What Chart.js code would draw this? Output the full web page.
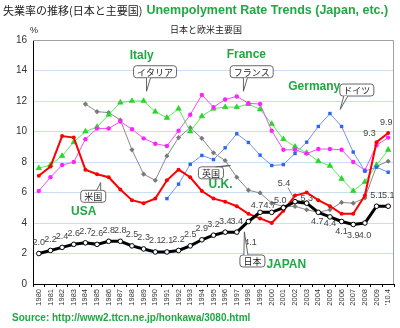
<!DOCTYPE html>
<html><head><meta charset="utf-8">
<script src="https://cdn.jsdelivr.net/npm/chart.js@4/dist/chart.umd.min.js"></script>
<style>html,body{margin:0;padding:0;background:#fff}canvas{display:block}</style>
</head><body>
<canvas id="c" width="400" height="328"></canvas>
<script>
const years = ['1980','1981','1982','1983','1984','1985','1986','1987','1988','1989','1990','1991','1992','1993','1994','1995','1996','1997','1998','1999','2000','2001','2002','2003','2004','2005','2006','2007','2008','2009',"'10.4"];
const japan = [2.0,2.2,2.4,2.6,2.7,2.6,2.8,2.8,2.5,2.3,2.1,2.1,2.2,2.5,2.9,3.2,3.4,3.4,4.1,4.7,4.7,5.0,5.4,5.3,4.7,4.4,4.1,3.9,4.0,5.1,5.1];
const usa = [7.1,7.7,9.7,9.6,7.5,7.2,7.0,6.2,5.5,5.3,5.6,6.8,7.5,7.0,6.1,5.6,5.4,5.1,4.6,4.3,4.0,4.8,5.8,6.0,5.5,5.1,4.6,4.6,5.8,9.3,9.9];
const italy = [7.6,7.8,8.4,9.3,10.0,10.3,11.1,11.9,12.0,12.0,11.3,10.9,11.5,10.0,11.0,11.5,11.6,11.6,11.8,11.45,10.5,9.5,9.0,8.6,8.05,7.75,6.9,6.1,6.7,7.8,8.8];
const france = [6.1,7.0,7.8,8.0,9.5,10.2,10.2,10.65,10.15,9.55,9.2,9.05,10.05,11.1,12.4,11.6,12.1,12.3,11.85,11.8,10.05,8.8,8.8,8.55,8.85,8.85,8.8,8.0,7.45,9.1,9.6];
const germany = [null,null,null,null,null,null,null,null,null,null,null,5.6,6.55,7.85,8.43,8.16,8.93,9.85,9.28,8.45,7.77,7.83,8.56,9.3,10.33,11.18,10.33,8.65,7.4,7.66,7.33];
const uk = [null,null,null,null,11.8,11.3,11.24,10.75,8.8,7.2,6.8,8.4,9.6,10.25,9.55,8.6,8.1,7.0,6.15,5.97,5.3,5.09,5.09,4.87,4.7,4.87,5.35,5.3,5.64,7.72,8.05];
const usaLabels = {29:'9.3', 30:'9.9'};
const yTicks = [0,2,4,6,8,10,12,14,16];

// label offsets (pixels) for Japan value labels
const jpOffsets = {18:[2,21],19:[-3,-7],20:[-2,-7],21:[-3,-7],22:[-11,-18],23:[0,-5],24:[-1,9],25:[0,7],26:[0,10],27:[0,11],28:[0,13]};

const countryNames = [
  {t:'Italy', xi:8.83, yv:14.94},
  {t:'France', xi:17.82, yv:15.01},
  {t:'Germany', xi:23.65, yv:12.97},
  {t:'USA', xi:3.86, yv:4.74},
  {t:'U.K.', xi:15.6, yv:6.52},
  {t:'JAPAN', xi:21.25, yv:1.25}
];
const callouts = [
  {t:'イタリア', xi:9.98, yv:13.92, tx:9.25, ty:12.64},
  {t:'フランス', xi:18.28, yv:13.92, tx:17.57, ty:12.64},
  {t:'ドイツ', xi:27.31, yv:12.72, tx:25.88, ty:11.45},
  {t:'米国', xi:4.67, yv:5.75, tx:5.31, ty:6.65},
  {t:'英国', xi:14.78, yv:7.29, tx:16.45, ty:7.77},
  {t:'日本', xi:18.34, yv:1.51, tx:17.65, ty:3.42}
];

const GREEN = '#1fa843';
const CJK = '"Noto Sans CJK JP", sans-serif';
const LAT = '"Liberation Sans", Arial, sans-serif';

function xPix(chart, xi){
  const xs = chart.scales.x;
  const a = xs.getPixelForValue(0), b = xs.getPixelForValue(1);
  return a + (b-a)*xi;
}

const deco = {
  id:'deco',
  beforeDraw(chart){
    const ctx = chart.ctx;
    ctx.save(); ctx.fillStyle='#fff'; ctx.fillRect(0,0,chart.width,chart.height); ctx.restore();
  },
  beforeDatasetsDraw(chart){
    const ctx = chart.ctx, ca = chart.chartArea;
    ctx.save();
    ctx.strokeStyle='#a0a0a0'; ctx.lineWidth=1;
    ctx.beginPath();
    ctx.moveTo(ca.left, ca.top+0.5); ctx.lineTo(ca.right-0.5, ca.top+0.5); ctx.lineTo(ca.right-0.5, ca.bottom);
    ctx.stroke();
    ctx.restore();
  },
  afterDatasetsDraw(chart){
    const ctx = chart.ctx;
    const ys = chart.scales.y;
    ctx.save();
    ctx.font = '9px '+LAT;
    ctx.fillStyle = '#444';
    ctx.textAlign='center'; ctx.textBaseline='middle';
    japan.forEach((v,i)=>{
      const off = jpOffsets[i] || [0,-11];
      const x = chart.scales.x.getPixelForValue(i) + off[0];
      const y = ys.getPixelForValue(v) + off[1];
      ctx.fillText(v.toFixed(1), x, y);
    });
    // leader for 5.4
    const lx = chart.scales.x.getPixelForValue(22), ly = ys.getPixelForValue(japan[22]);
    ctx.strokeStyle='#666'; ctx.lineWidth=0.8;
    ctx.beginPath(); ctx.moveTo(lx-7, ly-14); ctx.lineTo(lx-1, ly-3); ctx.stroke();
    Object.keys(usaLabels).forEach(k=>{
      const i = +k;
      const x = chart.scales.x.getPixelForValue(i) + (i===29?-7:-2);
      const y = ys.getPixelForValue(usa[i]) + (i===29?-9:-11);
      ctx.fillText(usaLabels[k], x, y);
    });
    ctx.restore();
  },
  afterDraw(chart){
    const ctx = chart.ctx, ys = chart.scales.y;
    ctx.save();
    // titles
    ctx.textBaseline='middle'; ctx.textAlign='left';
    ctx.fillStyle='#222'; ctx.font='11px '+CJK;
    ctx.fillText('失業率の推移(日本と主要国)', 3, 11);
    const w = ctx.measureText('失業率の推移(日本と主要国)').width;
    ctx.fillStyle=GREEN; ctx.font='bold 12.5px '+LAT;
    ctx.fillText('Unempolyment Rate Trends (Japan, etc.)', 3+w+4, 11);
    ctx.fillStyle='#222'; ctx.font='9px '+CJK; ctx.textAlign='center';
    ctx.fillText('日本と欧米主要国', 206, 30);
    ctx.font='9px '+LAT; ctx.fillText('%', 34, 31);
    ctx.fillStyle=GREEN; ctx.font='bold 10px '+LAT; ctx.textAlign='left';
    ctx.fillText('Source: http://www2.ttcn.ne.jp/honkawa/3080.html', 12, 318);
    // country names
    ctx.font='bold 12px '+LAT; ctx.textAlign='center';
    countryNames.forEach(c=>{
      ctx.fillText(c.t, xPix(chart,c.xi), ys.getPixelForValue(c.yv));
    });
    // callouts
    ctx.font='9px '+CJK;
    callouts.forEach(c=>{
      const cx = xPix(chart,c.xi), cy = ys.getPixelForValue(c.yv);
      const tx = xPix(chart,c.tx), ty = ys.getPixelForValue(c.ty);
      const tw = ctx.measureText(c.t).width;
      const bw = tw+7, bh = 12;
      const l = cx-bw/2, r = cx+bw/2, t = cy-bh/2, b = cy+bh/2;
      ctx.fillStyle='#fff'; ctx.strokeStyle='#555'; ctx.lineWidth=0.9;
      ctx.beginPath(); ctx.roundRect(l, t, bw, bh, 3); ctx.fill(); ctx.stroke();
      // tail
      let b1, b2;
      if (ty > b) { const bx = Math.min(Math.max(tx, l+4), r-8); b1=[bx, b]; b2=[bx+4, b]; }
      else if (ty < t) { const bx = Math.min(Math.max(tx-4, l+4), r-8); b1=[bx, t]; b2=[bx+4, t]; }
      else if (tx > r) { b1=[r, cy-3]; b2=[r, cy+1]; }
      else { b1=[l, cy-3]; b2=[l, cy+1]; }
      ctx.beginPath(); ctx.moveTo(b1[0], b1[1]); ctx.lineTo(tx, ty); ctx.lineTo(b2[0], b2[1]); ctx.closePath(); ctx.fill();
      ctx.beginPath(); ctx.moveTo(b1[0], b1[1]); ctx.lineTo(tx, ty); ctx.lineTo(b2[0], b2[1]); ctx.stroke();
      ctx.fillStyle='#222'; ctx.textAlign='center'; ctx.textBaseline='middle';
      ctx.fillText(c.t, cx, cy+0.5);
    });
    ctx.restore();
  }
};

new Chart(document.getElementById('c'), {
  type:'line',
  data:{
    labels: years,
    datasets:[
      {label:'Japan', data:japan, borderColor:'#000', borderWidth:3, pointStyle:'circle', pointRadius:2.3, pointBackgroundColor:'#fff', pointBorderColor:'#000', pointBorderWidth:1, order:0},
      {label:'USA', data:usa, borderColor:'#ff0000', borderWidth:2, pointStyle:'circle', pointRadius:2, pointBackgroundColor:'#ff0000', pointBorderColor:'#ee0000', pointBorderWidth:0, order:1},
      {label:'Italy', data:italy, borderColor:'#55ee55', borderWidth:1, pointStyle:'triangle', pointRadius:3.2, pointBackgroundColor:'#22dd22', pointBorderColor:'#22c022', pointBorderWidth:0.5, order:4},
      {label:'France', data:france, borderColor:'#f050f0', borderWidth:1, pointStyle:'circle', pointRadius:2.2, pointBackgroundColor:'#ff22ff', pointBorderColor:'#ee22ee', pointBorderWidth:0, order:3},
      {label:'Germany', data:germany, borderColor:'#7096ee', borderWidth:1, pointStyle:'rect', pointRadius:2.4, pointBackgroundColor:'#2a66f0', pointBorderColor:'#2a66f0', pointBorderWidth:0, order:2},
      {label:'UK', data:uk, borderColor:'#8a8a8a', borderWidth:1, pointStyle:'rectRot', pointRadius:2.6, pointBackgroundColor:'#7a7a7a', pointBorderColor:'#7a7a7a', pointBorderWidth:0, order:5}
    ]
  },
  options:{
    responsive:false, animation:false, spanGaps:false,
    layout:{padding:{top:40, right:6, bottom:16, left:0}},
    plugins:{legend:{display:false}, title:{display:false}, tooltip:{enabled:false}},
    elements:{line:{tension:0}},
    scales:{
      x:{
        type:'category', offset:true,
        grid:{display:true, drawOnChartArea:false, drawTicks:true, tickLength:3, offset:true, color:'#000'},
        border:{display:true, color:'#000', width:1},
        ticks:{autoSkip:false, maxRotation:90, minRotation:90, font:{size:7.5, family:LAT}, color:'#333', padding:2},
        afterFit(s){ s.height = 28; }
      },
      y:{
        min:0, max:16,
        afterBuildTicks(s){ s.ticks = yTicks.map(v=>({value:v})); },
        grid:{color:'#c9def2', drawTicks:false, lineWidth:1},
        border:{display:true, color:'#000', width:1},
        ticks:{font:{size:10, family:LAT}, color:'#333', padding:6},
        afterFit(s){ s.width = 33; }
      }
    }
  },
  plugins:[deco]
});
</script>
</body></html>
